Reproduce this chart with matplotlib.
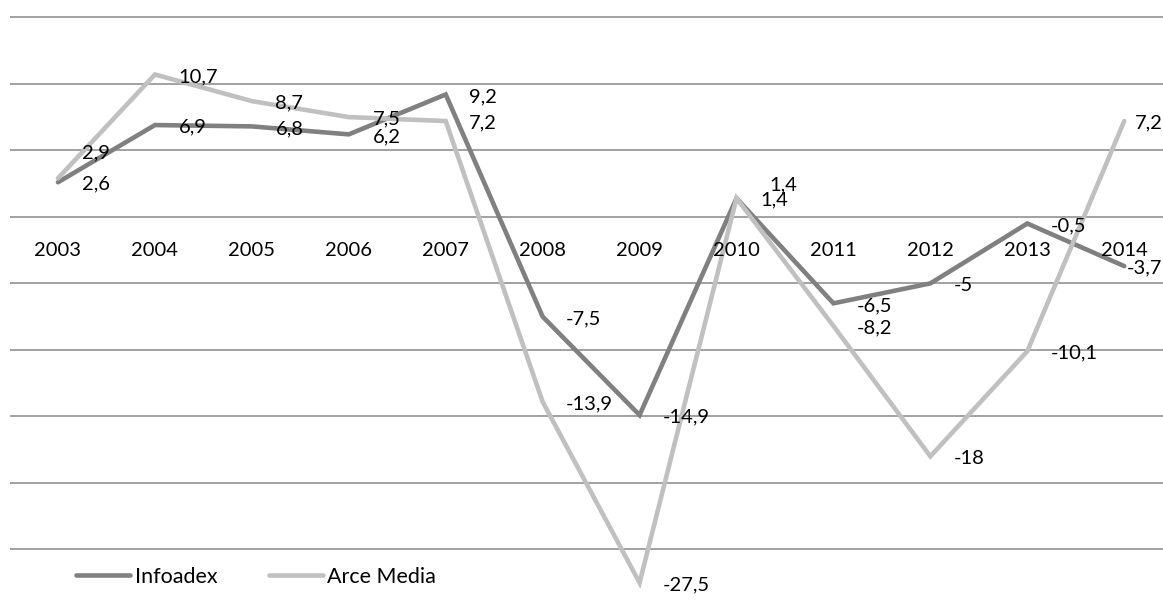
import matplotlib
matplotlib.use("Agg")
import matplotlib.pyplot as plt

plt.rcParams['font.family'] = ['Lato', 'DejaVu Sans']

# annual growth of advertising spend (%)
years = ['2003', '2004', '2005', '2006', '2007', '2008',
         '2009', '2010', '2011', '2012', '2013', '2014']
infoadex = [2.6, 6.9, 6.8, 6.2, 9.2, -7.5, -14.9, 1.4, -6.5, -5, -0.5, -3.7]
arce_media = [2.9, 10.7, 8.7, 7.5, 7.2, -13.9, -27.5, 1.4, -8.2, -18, -10.1, 7.2]

dark = '#808080'
light = '#c0c0c0'
grid_color = '#878787'

W, H = 1163, 608
fig = plt.figure(figsize=(W / 100, H / 100), dpi=100)
ax = fig.add_axes([10 / W, 0, 1 - 10 / W, 1])
ax.set_xlim(-0.495, 11.40)
ax.set_ylim(-29.4, 16.3)
ax.axis('off')

for y in range(-25, 20, 5):
    ax.axhline(y, color=grid_color, lw=1.1, zorder=1)

x = list(range(len(years)))
ax.plot(x, infoadex, color=dark, lw=3.3, solid_capstyle='round',
        solid_joinstyle='miter', label='Infoadex', zorder=3)
ax.plot(x, arce_media, color=light, lw=3.3, solid_capstyle='round',
        solid_joinstyle='miter', label='Arce Media', zorder=4)

fs = 14.5

# year labels sit just under the zero line
for i, yr in enumerate(years):
    ax.annotate(yr, (i, 0), xytext=(0, -24), textcoords='offset points',
                ha='center', va='center', fontsize=fs, zorder=5)


def fmt(v):
    return f"{v:g}".replace('.', ',')


# default label offset (points), with a few moved by hand to avoid overlap
default_off = (17, -1.5)
infoadex_off = {11: (2, -1.5)}
arce_off = {0: (17, 18), 7: (24, 9.5), 11: (8, -1.5)}

for i, v in enumerate(infoadex):
    ax.annotate(fmt(v), (i, v), xytext=infoadex_off.get(i, default_off),
                textcoords='offset points', ha='left', va='center',
                fontsize=fs, zorder=6)
for i, v in enumerate(arce_media):
    ax.annotate(fmt(v), (i, v), xytext=arce_off.get(i, default_off),
                textcoords='offset points', ha='left', va='center',
                fontsize=fs, zorder=6)

leg = ax.legend(loc='center left', bbox_to_anchor=(76 / W, 1 - 577 / H),
                bbox_transform=fig.transFigure, ncol=2, frameon=False,
                fontsize=15.5, handlelength=2.5, handletextpad=0.22,
                columnspacing=2.4, borderpad=0, borderaxespad=0)

fig.savefig('out.png', dpi=100)
